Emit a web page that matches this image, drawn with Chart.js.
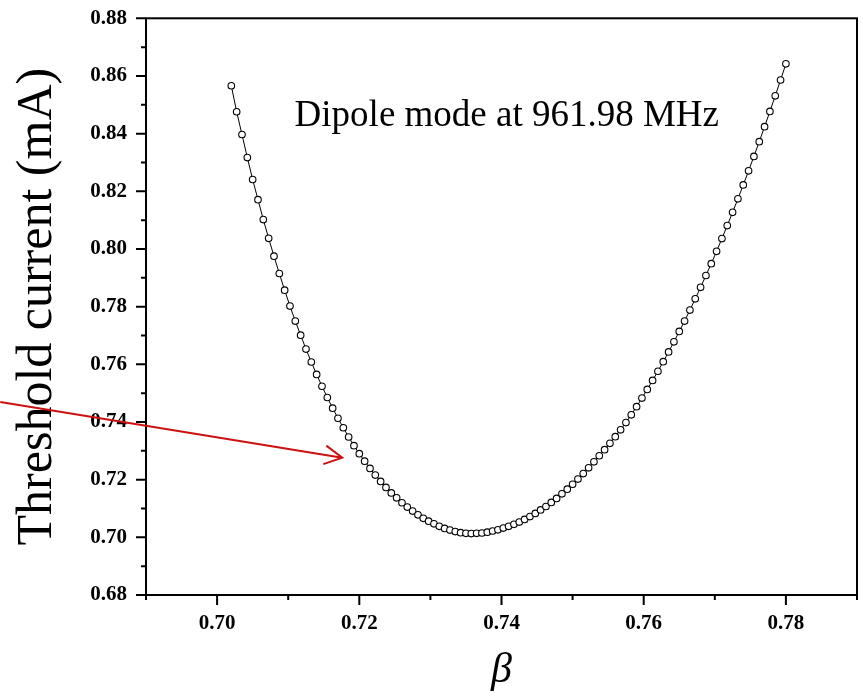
<!DOCTYPE html>
<html>
<head>
<meta charset="utf-8">
<script src="https://cdn.jsdelivr.net/npm/chart.js@4.4.1/dist/chart.umd.min.js"></script>
<style>
  html, body { margin: 0; padding: 0; background: #fff; }
  #wrap { width: 863px; height: 698px; }
</style>
</head>
<body>
<div id="wrap"><canvas id="chart" width="863" height="698"></canvas></div>
<script>
// beta values (x) and threshold current in mA (y)
const beta = [
  0.70200, 0.70275, 0.70350, 0.70425, 0.70500, 0.70575, 0.70650, 0.70725, 0.70800, 0.70875,
  0.70950, 0.71025, 0.71100, 0.71175, 0.71250, 0.71325, 0.71400, 0.71475, 0.71550, 0.71625,
  0.71700, 0.71775, 0.71850, 0.71925, 0.72000, 0.72075, 0.72150, 0.72225, 0.72300, 0.72375,
  0.72450, 0.72525, 0.72600, 0.72675, 0.72750, 0.72825, 0.72900, 0.72975, 0.73050, 0.73125,
  0.73200, 0.73275, 0.73350, 0.73425, 0.73500, 0.73575, 0.73650, 0.73725, 0.73800, 0.73875,
  0.73950, 0.74025, 0.74100, 0.74175, 0.74250, 0.74325, 0.74400, 0.74475, 0.74550, 0.74625,
  0.74700, 0.74775, 0.74850, 0.74925, 0.75000, 0.75075, 0.75150, 0.75225, 0.75300, 0.75375,
  0.75450, 0.75525, 0.75600, 0.75675, 0.75750, 0.75825, 0.75900, 0.75975, 0.76050, 0.76125,
  0.76200, 0.76275, 0.76350, 0.76425, 0.76500, 0.76575, 0.76650, 0.76725, 0.76800, 0.76875,
  0.76950, 0.77025, 0.77100, 0.77175, 0.77250, 0.77325, 0.77400, 0.77475, 0.77550, 0.77625,
  0.77700, 0.77775, 0.77850, 0.77925, 0.78000
];
const current = [
  0.8566, 0.8476, 0.8397, 0.8317, 0.8241, 0.8171, 0.8102, 0.8037, 0.7975, 0.7915,
  0.7857, 0.7802, 0.7750, 0.7701, 0.7653, 0.7608, 0.7565, 0.7524, 0.7485, 0.7448,
  0.7413, 0.7380, 0.7348, 0.7318, 0.7290, 0.7264, 0.7239, 0.7216, 0.7194, 0.7173,
  0.7154, 0.7137, 0.7120, 0.7105, 0.7091, 0.7078, 0.7066, 0.7056, 0.7047, 0.7038,
  0.7031, 0.7025, 0.7020, 0.7016, 0.7014, 0.7013, 0.7014, 0.7015, 0.7018, 0.7022,
  0.7026, 0.7032, 0.7038, 0.7045, 0.7053, 0.7062, 0.7072, 0.7083, 0.7095, 0.7107,
  0.7121, 0.7135, 0.7151, 0.7167, 0.7184, 0.7202, 0.7221, 0.7241, 0.7262, 0.7283,
  0.7304, 0.7326, 0.7349, 0.7373, 0.7398, 0.7425, 0.7453, 0.7483, 0.7513, 0.7544,
  0.7576, 0.7609, 0.7643, 0.7678, 0.7714, 0.7750, 0.7788, 0.7827, 0.7867, 0.7908,
  0.7949, 0.7992, 0.8036, 0.8081, 0.8127, 0.8174, 0.8222, 0.8271, 0.8321, 0.8372,
  0.8424, 0.8477, 0.8531, 0.8586, 0.8642
];

const xTicks = [0.70, 0.72, 0.74, 0.76, 0.78];
const xMinorTicks = [0.69, 0.71, 0.73, 0.75, 0.77, 0.79];
const yTicks = [0.68, 0.70, 0.72, 0.74, 0.76, 0.78, 0.80, 0.82, 0.84, 0.86, 0.88];
const yMinorTicks = [0.69, 0.71, 0.73, 0.75, 0.77, 0.79, 0.81, 0.83, 0.85, 0.87];

const noteText = 'Dipole mode at 961.98 MHz';
const notePos = [0.7109, 0.8426];
const arrowFrom = [0.6695, 0.7469];
const arrowTo = [0.7176, 0.7276];

const serif = "'Times New Roman', 'Liberation Serif', serif";

// box, tick marks, note and red arrow
const decorations = {
  id: 'decorations',
  afterDraw(chart) {
    const { ctx, chartArea: a, scales: { x, y } } = chart;
    ctx.save();
    ctx.strokeStyle = '#000';
    ctx.lineWidth = 2;
    ctx.strokeRect(a.left, a.top, a.right - a.left, a.bottom - a.top);

    ctx.beginPath();
    xTicks.forEach(v => {
      const px = x.getPixelForValue(v);
      ctx.moveTo(px, a.bottom); ctx.lineTo(px, a.bottom + 10);
    });
    xMinorTicks.forEach(v => {
      const px = x.getPixelForValue(v);
      ctx.moveTo(px, a.bottom); ctx.lineTo(px, a.bottom + 5);
    });
    yTicks.forEach(v => {
      const py = y.getPixelForValue(v);
      ctx.moveTo(a.left, py); ctx.lineTo(a.left - 10, py);
    });
    yMinorTicks.forEach(v => {
      const py = y.getPixelForValue(v);
      ctx.moveTo(a.left, py); ctx.lineTo(a.left - 5, py);
    });
    ctx.stroke();

    ctx.fillStyle = '#000';
    ctx.font = `37px ${serif}`;
    ctx.textAlign = 'left';
    ctx.textBaseline = 'alphabetic';
    ctx.fillText(noteText, x.getPixelForValue(notePos[0]), y.getPixelForValue(notePos[1]));

    const x0 = x.getPixelForValue(arrowFrom[0]), y0 = y.getPixelForValue(arrowFrom[1]);
    const x1 = x.getPixelForValue(arrowTo[0]), y1 = y.getPixelForValue(arrowTo[1]);
    const ang = Math.atan2(y1 - y0, x1 - x0);
    const head = 20, spread = 28 * Math.PI / 180;
    ctx.strokeStyle = '#cc1111';
    ctx.lineWidth = 2;
    ctx.beginPath();
    ctx.moveTo(x0, y0); ctx.lineTo(x1, y1);
    ctx.moveTo(x1 - head * Math.cos(ang - spread), y1 - head * Math.sin(ang - spread));
    ctx.lineTo(x1, y1);
    ctx.lineTo(x1 - head * Math.cos(ang + spread), y1 - head * Math.sin(ang + spread));
    ctx.stroke();
    ctx.restore();
  }
};

const ctx = document.getElementById('chart').getContext('2d');
new Chart(ctx, {
  type: 'scatter',
  data: {
    datasets: [{
      data: beta.map((b, i) => ({ x: b, y: current[i] })),
      showLine: true,
      borderColor: '#000',
      borderWidth: 1,
      pointRadius: 3.3,
      pointBorderWidth: 1.1,
      pointBorderColor: '#000',
      pointBackgroundColor: '#fff',
      tension: 0
    }]
  },
  options: {
    responsive: false,
    animation: false,
    layout: { padding: { top: 18.3, right: 6, left: 0, bottom: 0 } },
    plugins: { legend: { display: false }, tooltip: { enabled: false } },
    scales: {
      x: {
        type: 'linear',
        min: 0.69,
        max: 0.79,
        afterBuildTicks: s => { s.ticks = xTicks.map(v => ({ value: v })); },
        afterFit: s => { s.height = 103; s.paddingLeft = 0; s.paddingRight = 0; },
        grid: { display: false, drawTicks: false },
        border: { display: false },
        ticks: {
          autoSkip: false,
          maxRotation: 0,
          padding: 16,
          color: '#000',
          font: { family: serif, size: 21, weight: 'bold' },
          callback: v => v.toFixed(2)
        },
        title: {
          display: true,
          text: 'β',
          color: '#000',
          font: { family: serif, size: 42, style: 'italic' },
          padding: { top: 0, bottom: 2 }
        }
      },
      y: {
        type: 'linear',
        min: 0.68,
        max: 0.88,
        afterBuildTicks: s => { s.ticks = yTicks.map(v => ({ value: v })); },
        afterFit: s => { s.width = 146; s.paddingTop = 0; s.paddingBottom = 0; },
        grid: { display: false, drawTicks: false },
        border: { display: false },
        ticks: {
          autoSkip: false,
          padding: 19,
          color: '#000',
          font: { family: serif, size: 21, weight: 'bold' },
          callback: v => v.toFixed(2)
        },
        title: {
          display: true,
          text: 'Threshold current (mA)',
          color: '#000',
          font: { family: serif, size: 50 },
          padding: { top: 8, bottom: 0 }
        }
      }
    }
  },
  plugins: [decorations]
});
</script>
</body>
</html>
